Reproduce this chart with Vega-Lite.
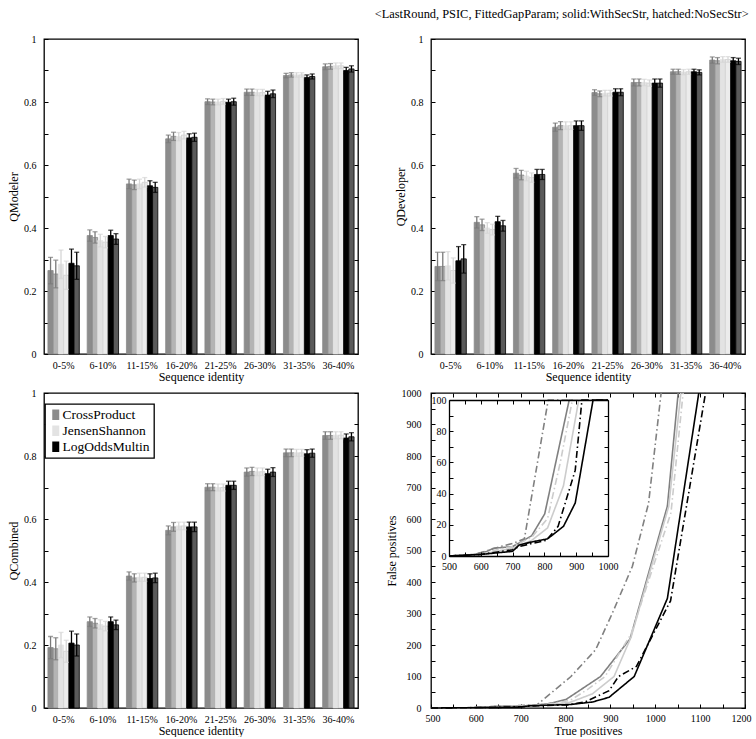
{
"$schema":"https://vega.github.io/schema/vega-lite/v6.json",
"padding":{"left":6,"top":7,"right":0,"bottom":0},
"title":{"text":"<LastRound, PSIC, FittedGapParam; solid:WithSecStr, hatched:NoSecStr>","anchor":"end","font":"Liberation Serif","fontSize":12.4,"fontWeight":"normal","color":"black","offset":13,"dx":-3},
"config":{
 "view":{"stroke":"black","strokeWidth":1.3},
 "font":"Liberation Serif",
 "axis":{"labelFont":"Liberation Serif","labelFontSize":10,"labelColor":"black","titleFont":"Liberation Serif","titleFontSize":12,"titleFontWeight":"normal","titleColor":"black","tickColor":"black","domain":false,"grid":false,"labelFlush":false,"labelOverlap":false},
 "legend":{"strokeWidth":1.3}
},
"resolve":{"scale":{"color":"independent","fill":"independent","stroke":"independent","strokeDash":"independent"},"legend":{"color":"independent","fill":"independent","stroke":"independent","strokeDash":"independent"}},
"datasets":{
"QModeler":[
{"id":"0-5%","s":"CrossProduct","v":0.265,"lo":0.223,"hi":0.307},
{"id":"0-5%","s":"CrossProduct hatched","v":0.254,"lo":0.210,"hi":0.298},
{"id":"0-5%","s":"JensenShannon","v":0.285,"lo":0.240,"hi":0.330},
{"id":"0-5%","s":"JensenShannon hatched","v":0.250,"lo":0.205,"hi":0.295},
{"id":"0-5%","s":"LogOddsMultin","v":0.288,"lo":0.243,"hi":0.333},
{"id":"0-5%","s":"LogOddsMultin hatched","v":0.280,"lo":0.237,"hi":0.323},
{"id":"6-10%","s":"CrossProduct","v":0.376,"lo":0.358,"hi":0.394},
{"id":"6-10%","s":"CrossProduct hatched","v":0.370,"lo":0.352,"hi":0.388},
{"id":"6-10%","s":"JensenShannon","v":0.360,"lo":0.340,"hi":0.380},
{"id":"6-10%","s":"JensenShannon hatched","v":0.355,"lo":0.337,"hi":0.373},
{"id":"6-10%","s":"LogOddsMultin","v":0.376,"lo":0.359,"hi":0.393},
{"id":"6-10%","s":"LogOddsMultin hatched","v":0.365,"lo":0.348,"hi":0.382},
{"id":"11-15%","s":"CrossProduct","v":0.540,"lo":0.525,"hi":0.555},
{"id":"11-15%","s":"CrossProduct hatched","v":0.537,"lo":0.522,"hi":0.552},
{"id":"11-15%","s":"JensenShannon","v":0.540,"lo":0.525,"hi":0.555},
{"id":"11-15%","s":"JensenShannon hatched","v":0.545,"lo":0.530,"hi":0.560},
{"id":"11-15%","s":"LogOddsMultin","v":0.534,"lo":0.518,"hi":0.550},
{"id":"11-15%","s":"LogOddsMultin hatched","v":0.529,"lo":0.513,"hi":0.545},
{"id":"16-20%","s":"CrossProduct","v":0.683,"lo":0.671,"hi":0.695},
{"id":"16-20%","s":"CrossProduct hatched","v":0.691,"lo":0.678,"hi":0.704},
{"id":"16-20%","s":"JensenShannon","v":0.690,"lo":0.677,"hi":0.703},
{"id":"16-20%","s":"JensenShannon hatched","v":0.695,"lo":0.683,"hi":0.707},
{"id":"16-20%","s":"LogOddsMultin","v":0.686,"lo":0.673,"hi":0.699},
{"id":"16-20%","s":"LogOddsMultin hatched","v":0.688,"lo":0.675,"hi":0.701},
{"id":"21-25%","s":"CrossProduct","v":0.801,"lo":0.792,"hi":0.810},
{"id":"21-25%","s":"CrossProduct hatched","v":0.800,"lo":0.791,"hi":0.809},
{"id":"21-25%","s":"JensenShannon","v":0.800,"lo":0.791,"hi":0.809},
{"id":"21-25%","s":"JensenShannon hatched","v":0.802,"lo":0.793,"hi":0.811},
{"id":"21-25%","s":"LogOddsMultin","v":0.799,"lo":0.789,"hi":0.809},
{"id":"21-25%","s":"LogOddsMultin hatched","v":0.801,"lo":0.790,"hi":0.812},
{"id":"26-30%","s":"CrossProduct","v":0.831,"lo":0.821,"hi":0.841},
{"id":"26-30%","s":"CrossProduct hatched","v":0.831,"lo":0.821,"hi":0.841},
{"id":"26-30%","s":"JensenShannon","v":0.830,"lo":0.820,"hi":0.840},
{"id":"26-30%","s":"JensenShannon hatched","v":0.830,"lo":0.820,"hi":0.840},
{"id":"26-30%","s":"LogOddsMultin","v":0.822,"lo":0.810,"hi":0.834},
{"id":"26-30%","s":"LogOddsMultin hatched","v":0.826,"lo":0.814,"hi":0.838},
{"id":"31-35%","s":"CrossProduct","v":0.884,"lo":0.877,"hi":0.891},
{"id":"31-35%","s":"CrossProduct hatched","v":0.886,"lo":0.879,"hi":0.893},
{"id":"31-35%","s":"JensenShannon","v":0.886,"lo":0.879,"hi":0.893},
{"id":"31-35%","s":"JensenShannon hatched","v":0.886,"lo":0.879,"hi":0.893},
{"id":"31-35%","s":"LogOddsMultin","v":0.878,"lo":0.870,"hi":0.886},
{"id":"31-35%","s":"LogOddsMultin hatched","v":0.881,"lo":0.873,"hi":0.889},
{"id":"36-40%","s":"CrossProduct","v":0.912,"lo":0.903,"hi":0.921},
{"id":"36-40%","s":"CrossProduct hatched","v":0.913,"lo":0.904,"hi":0.922},
{"id":"36-40%","s":"JensenShannon","v":0.915,"lo":0.906,"hi":0.924},
{"id":"36-40%","s":"JensenShannon hatched","v":0.915,"lo":0.906,"hi":0.924},
{"id":"36-40%","s":"LogOddsMultin","v":0.900,"lo":0.890,"hi":0.910},
{"id":"36-40%","s":"LogOddsMultin hatched","v":0.905,"lo":0.895,"hi":0.915}
],
"QDeveloper":[
{"id":"0-5%","s":"CrossProduct","v":0.278,"lo":0.233,"hi":0.323},
{"id":"0-5%","s":"CrossProduct hatched","v":0.278,"lo":0.233,"hi":0.323},
{"id":"0-5%","s":"JensenShannon","v":0.280,"lo":0.235,"hi":0.325},
{"id":"0-5%","s":"JensenShannon hatched","v":0.265,"lo":0.225,"hi":0.305},
{"id":"0-5%","s":"LogOddsMultin","v":0.296,"lo":0.251,"hi":0.341},
{"id":"0-5%","s":"LogOddsMultin hatched","v":0.302,"lo":0.257,"hi":0.347},
{"id":"6-10%","s":"CrossProduct","v":0.418,"lo":0.400,"hi":0.436},
{"id":"6-10%","s":"CrossProduct hatched","v":0.410,"lo":0.392,"hi":0.428},
{"id":"6-10%","s":"JensenShannon","v":0.400,"lo":0.383,"hi":0.417},
{"id":"6-10%","s":"JensenShannon hatched","v":0.395,"lo":0.378,"hi":0.412},
{"id":"6-10%","s":"LogOddsMultin","v":0.420,"lo":0.403,"hi":0.437},
{"id":"6-10%","s":"LogOddsMultin hatched","v":0.407,"lo":0.390,"hi":0.424},
{"id":"11-15%","s":"CrossProduct","v":0.574,"lo":0.559,"hi":0.589},
{"id":"11-15%","s":"CrossProduct hatched","v":0.568,"lo":0.553,"hi":0.583},
{"id":"11-15%","s":"JensenShannon","v":0.565,"lo":0.550,"hi":0.580},
{"id":"11-15%","s":"JensenShannon hatched","v":0.560,"lo":0.545,"hi":0.575},
{"id":"11-15%","s":"LogOddsMultin","v":0.570,"lo":0.554,"hi":0.586},
{"id":"11-15%","s":"LogOddsMultin hatched","v":0.570,"lo":0.554,"hi":0.586},
{"id":"16-20%","s":"CrossProduct","v":0.720,"lo":0.707,"hi":0.733},
{"id":"16-20%","s":"CrossProduct hatched","v":0.725,"lo":0.712,"hi":0.738},
{"id":"16-20%","s":"JensenShannon","v":0.725,"lo":0.713,"hi":0.737},
{"id":"16-20%","s":"JensenShannon hatched","v":0.725,"lo":0.713,"hi":0.737},
{"id":"16-20%","s":"LogOddsMultin","v":0.725,"lo":0.710,"hi":0.740},
{"id":"16-20%","s":"LogOddsMultin hatched","v":0.725,"lo":0.710,"hi":0.740},
{"id":"21-25%","s":"CrossProduct","v":0.830,"lo":0.821,"hi":0.839},
{"id":"21-25%","s":"CrossProduct hatched","v":0.826,"lo":0.817,"hi":0.835},
{"id":"21-25%","s":"JensenShannon","v":0.828,"lo":0.819,"hi":0.837},
{"id":"21-25%","s":"JensenShannon hatched","v":0.828,"lo":0.819,"hi":0.837},
{"id":"21-25%","s":"LogOddsMultin","v":0.831,"lo":0.820,"hi":0.842},
{"id":"21-25%","s":"LogOddsMultin hatched","v":0.831,"lo":0.820,"hi":0.842},
{"id":"26-30%","s":"CrossProduct","v":0.862,"lo":0.851,"hi":0.873},
{"id":"26-30%","s":"CrossProduct hatched","v":0.862,"lo":0.851,"hi":0.873},
{"id":"26-30%","s":"JensenShannon","v":0.862,"lo":0.852,"hi":0.872},
{"id":"26-30%","s":"JensenShannon hatched","v":0.860,"lo":0.850,"hi":0.870},
{"id":"26-30%","s":"LogOddsMultin","v":0.860,"lo":0.847,"hi":0.873},
{"id":"26-30%","s":"LogOddsMultin hatched","v":0.860,"lo":0.847,"hi":0.873},
{"id":"31-35%","s":"CrossProduct","v":0.896,"lo":0.888,"hi":0.904},
{"id":"31-35%","s":"CrossProduct hatched","v":0.896,"lo":0.888,"hi":0.904},
{"id":"31-35%","s":"JensenShannon","v":0.895,"lo":0.887,"hi":0.903},
{"id":"31-35%","s":"JensenShannon hatched","v":0.896,"lo":0.888,"hi":0.904},
{"id":"31-35%","s":"LogOddsMultin","v":0.896,"lo":0.888,"hi":0.904},
{"id":"31-35%","s":"LogOddsMultin hatched","v":0.894,"lo":0.886,"hi":0.902},
{"id":"36-40%","s":"CrossProduct","v":0.933,"lo":0.923,"hi":0.943},
{"id":"36-40%","s":"CrossProduct hatched","v":0.931,"lo":0.921,"hi":0.941},
{"id":"36-40%","s":"JensenShannon","v":0.935,"lo":0.926,"hi":0.944},
{"id":"36-40%","s":"JensenShannon hatched","v":0.935,"lo":0.926,"hi":0.944},
{"id":"36-40%","s":"LogOddsMultin","v":0.931,"lo":0.921,"hi":0.941},
{"id":"36-40%","s":"LogOddsMultin hatched","v":0.929,"lo":0.919,"hi":0.939}
],
"QCombined":[
{"id":"0-5%","s":"CrossProduct","v":0.192,"lo":0.157,"hi":0.227},
{"id":"0-5%","s":"CrossProduct hatched","v":0.188,"lo":0.153,"hi":0.223},
{"id":"0-5%","s":"JensenShannon","v":0.200,"lo":0.160,"hi":0.240},
{"id":"0-5%","s":"JensenShannon hatched","v":0.180,"lo":0.145,"hi":0.215},
{"id":"0-5%","s":"LogOddsMultin","v":0.206,"lo":0.168,"hi":0.244},
{"id":"0-5%","s":"LogOddsMultin hatched","v":0.200,"lo":0.165,"hi":0.235},
{"id":"6-10%","s":"CrossProduct","v":0.274,"lo":0.259,"hi":0.289},
{"id":"6-10%","s":"CrossProduct hatched","v":0.269,"lo":0.254,"hi":0.284},
{"id":"6-10%","s":"JensenShannon","v":0.265,"lo":0.250,"hi":0.280},
{"id":"6-10%","s":"JensenShannon hatched","v":0.260,"lo":0.245,"hi":0.275},
{"id":"6-10%","s":"LogOddsMultin","v":0.274,"lo":0.259,"hi":0.289},
{"id":"6-10%","s":"LogOddsMultin hatched","v":0.264,"lo":0.249,"hi":0.279},
{"id":"11-15%","s":"CrossProduct","v":0.419,"lo":0.406,"hi":0.432},
{"id":"11-15%","s":"CrossProduct hatched","v":0.413,"lo":0.400,"hi":0.426},
{"id":"11-15%","s":"JensenShannon","v":0.415,"lo":0.402,"hi":0.428},
{"id":"11-15%","s":"JensenShannon hatched","v":0.415,"lo":0.402,"hi":0.428},
{"id":"11-15%","s":"LogOddsMultin","v":0.411,"lo":0.396,"hi":0.426},
{"id":"11-15%","s":"LogOddsMultin hatched","v":0.413,"lo":0.398,"hi":0.428},
{"id":"16-20%","s":"CrossProduct","v":0.564,"lo":0.550,"hi":0.578},
{"id":"16-20%","s":"CrossProduct hatched","v":0.575,"lo":0.561,"hi":0.589},
{"id":"16-20%","s":"JensenShannon","v":0.578,"lo":0.566,"hi":0.590},
{"id":"16-20%","s":"JensenShannon hatched","v":0.578,"lo":0.566,"hi":0.590},
{"id":"16-20%","s":"LogOddsMultin","v":0.575,"lo":0.560,"hi":0.590},
{"id":"16-20%","s":"LogOddsMultin hatched","v":0.575,"lo":0.560,"hi":0.590},
{"id":"21-25%","s":"CrossProduct","v":0.701,"lo":0.690,"hi":0.712},
{"id":"21-25%","s":"CrossProduct hatched","v":0.701,"lo":0.690,"hi":0.712},
{"id":"21-25%","s":"JensenShannon","v":0.700,"lo":0.689,"hi":0.711},
{"id":"21-25%","s":"JensenShannon hatched","v":0.700,"lo":0.689,"hi":0.711},
{"id":"21-25%","s":"LogOddsMultin","v":0.707,"lo":0.694,"hi":0.720},
{"id":"21-25%","s":"LogOddsMultin hatched","v":0.707,"lo":0.694,"hi":0.720},
{"id":"26-30%","s":"CrossProduct","v":0.749,"lo":0.736,"hi":0.762},
{"id":"26-30%","s":"CrossProduct hatched","v":0.751,"lo":0.738,"hi":0.764},
{"id":"26-30%","s":"JensenShannon","v":0.750,"lo":0.738,"hi":0.762},
{"id":"26-30%","s":"JensenShannon hatched","v":0.750,"lo":0.738,"hi":0.762},
{"id":"26-30%","s":"LogOddsMultin","v":0.744,"lo":0.730,"hi":0.758},
{"id":"26-30%","s":"LogOddsMultin hatched","v":0.749,"lo":0.735,"hi":0.763},
{"id":"31-35%","s":"CrossProduct","v":0.810,"lo":0.798,"hi":0.822},
{"id":"31-35%","s":"CrossProduct hatched","v":0.810,"lo":0.798,"hi":0.822},
{"id":"31-35%","s":"JensenShannon","v":0.810,"lo":0.799,"hi":0.821},
{"id":"31-35%","s":"JensenShannon hatched","v":0.810,"lo":0.799,"hi":0.821},
{"id":"31-35%","s":"LogOddsMultin","v":0.807,"lo":0.794,"hi":0.820},
{"id":"31-35%","s":"LogOddsMultin hatched","v":0.809,"lo":0.796,"hi":0.822},
{"id":"36-40%","s":"CrossProduct","v":0.865,"lo":0.853,"hi":0.877},
{"id":"36-40%","s":"CrossProduct hatched","v":0.865,"lo":0.853,"hi":0.877},
{"id":"36-40%","s":"JensenShannon","v":0.866,"lo":0.855,"hi":0.877},
{"id":"36-40%","s":"JensenShannon hatched","v":0.866,"lo":0.855,"hi":0.877},
{"id":"36-40%","s":"LogOddsMultin","v":0.857,"lo":0.844,"hi":0.870},
{"id":"36-40%","s":"LogOddsMultin hatched","v":0.861,"lo":0.848,"hi":0.874}
],
"roc":[
{"m":"CrossProduct","sec":"WithSecStr","tp":500,"fp":0},
{"m":"CrossProduct","sec":"WithSecStr","tp":580,"fp":1},
{"m":"CrossProduct","sec":"WithSecStr","tp":620,"fp":3},
{"m":"CrossProduct","sec":"WithSecStr","tp":640,"fp":5},
{"m":"CrossProduct","sec":"WithSecStr","tp":700,"fp":6},
{"m":"CrossProduct","sec":"WithSecStr","tp":760,"fp":13},
{"m":"CrossProduct","sec":"WithSecStr","tp":801,"fp":27},
{"m":"CrossProduct","sec":"WithSecStr","tp":878,"fp":100},
{"m":"CrossProduct","sec":"WithSecStr","tp":944,"fp":220},
{"m":"CrossProduct","sec":"WithSecStr","tp":1027,"fp":641},
{"m":"CrossProduct","sec":"WithSecStr","tp":1051,"fp":1000},
{"m":"CrossProduct","sec":"NoSecStr","tp":500,"fp":0},
{"m":"CrossProduct","sec":"NoSecStr","tp":580,"fp":1},
{"m":"CrossProduct","sec":"NoSecStr","tp":630,"fp":4},
{"m":"CrossProduct","sec":"NoSecStr","tp":660,"fp":6},
{"m":"CrossProduct","sec":"NoSecStr","tp":700,"fp":8},
{"m":"CrossProduct","sec":"NoSecStr","tp":737,"fp":11},
{"m":"CrossProduct","sec":"NoSecStr","tp":812,"fp":100},
{"m":"CrossProduct","sec":"NoSecStr","tp":867,"fp":185},
{"m":"CrossProduct","sec":"NoSecStr","tp":904,"fp":300},
{"m":"CrossProduct","sec":"NoSecStr","tp":949,"fp":450},
{"m":"CrossProduct","sec":"NoSecStr","tp":985,"fp":650},
{"m":"CrossProduct","sec":"NoSecStr","tp":1013,"fp":1000},
{"m":"JensenShannon","sec":"WithSecStr","tp":500,"fp":0},
{"m":"JensenShannon","sec":"WithSecStr","tp":600,"fp":1},
{"m":"JensenShannon","sec":"WithSecStr","tp":650,"fp":3},
{"m":"JensenShannon","sec":"WithSecStr","tp":700,"fp":5},
{"m":"JensenShannon","sec":"WithSecStr","tp":760,"fp":10},
{"m":"JensenShannon","sec":"WithSecStr","tp":810,"fp":18},
{"m":"JensenShannon","sec":"WithSecStr","tp":860,"fp":45},
{"m":"JensenShannon","sec":"WithSecStr","tp":908,"fp":100},
{"m":"JensenShannon","sec":"WithSecStr","tp":946,"fp":225},
{"m":"JensenShannon","sec":"WithSecStr","tp":1030,"fp":640},
{"m":"JensenShannon","sec":"WithSecStr","tp":1057,"fp":1000},
{"m":"JensenShannon","sec":"NoSecStr","tp":500,"fp":0},
{"m":"JensenShannon","sec":"NoSecStr","tp":600,"fp":1},
{"m":"JensenShannon","sec":"NoSecStr","tp":650,"fp":4},
{"m":"JensenShannon","sec":"NoSecStr","tp":700,"fp":6},
{"m":"JensenShannon","sec":"NoSecStr","tp":760,"fp":12},
{"m":"JensenShannon","sec":"NoSecStr","tp":810,"fp":24},
{"m":"JensenShannon","sec":"NoSecStr","tp":850,"fp":60},
{"m":"JensenShannon","sec":"NoSecStr","tp":888,"fp":100},
{"m":"JensenShannon","sec":"NoSecStr","tp":946,"fp":235},
{"m":"JensenShannon","sec":"NoSecStr","tp":1035,"fp":620},
{"m":"JensenShannon","sec":"NoSecStr","tp":1062,"fp":1000},
{"m":"LogOddsMultin","sec":"WithSecStr","tp":500,"fp":0},
{"m":"LogOddsMultin","sec":"WithSecStr","tp":600,"fp":1},
{"m":"LogOddsMultin","sec":"WithSecStr","tp":700,"fp":3},
{"m":"LogOddsMultin","sec":"WithSecStr","tp":720,"fp":7},
{"m":"LogOddsMultin","sec":"WithSecStr","tp":760,"fp":9},
{"m":"LogOddsMultin","sec":"WithSecStr","tp":810,"fp":11},
{"m":"LogOddsMultin","sec":"WithSecStr","tp":860,"fp":19},
{"m":"LogOddsMultin","sec":"WithSecStr","tp":897,"fp":34},
{"m":"LogOddsMultin","sec":"WithSecStr","tp":953,"fp":100},
{"m":"LogOddsMultin","sec":"WithSecStr","tp":1027,"fp":348},
{"m":"LogOddsMultin","sec":"WithSecStr","tp":1097,"fp":1000},
{"m":"LogOddsMultin","sec":"NoSecStr","tp":500,"fp":0},
{"m":"LogOddsMultin","sec":"NoSecStr","tp":600,"fp":1},
{"m":"LogOddsMultin","sec":"NoSecStr","tp":700,"fp":4},
{"m":"LogOddsMultin","sec":"NoSecStr","tp":720,"fp":6},
{"m":"LogOddsMultin","sec":"NoSecStr","tp":760,"fp":8},
{"m":"LogOddsMultin","sec":"NoSecStr","tp":806,"fp":10},
{"m":"LogOddsMultin","sec":"NoSecStr","tp":843,"fp":19},
{"m":"LogOddsMultin","sec":"NoSecStr","tp":870,"fp":37},
{"m":"LogOddsMultin","sec":"NoSecStr","tp":897,"fp":55},
{"m":"LogOddsMultin","sec":"NoSecStr","tp":918,"fp":100},
{"m":"LogOddsMultin","sec":"NoSecStr","tp":958,"fp":132},
{"m":"LogOddsMultin","sec":"NoSecStr","tp":1034,"fp":340},
{"m":"LogOddsMultin","sec":"NoSecStr","tp":1112,"fp":1000}
]
},
"spacing":24,
"hconcat":[
{
"bounds":"flush",
"spacing":39,
"resolve":{"scale":{"color":"independent","fill":"independent","stroke":"independent"},"legend":{"color":"independent","fill":"independent","stroke":"independent"}},
"vconcat":[
{
 "width":314,"height":315,
 "data":{"name":"QModeler"},
 "encoding":{
  "x":{"field":"id","type":"nominal","sort":["0-5%","6-10%","11-15%","16-20%","21-25%","26-30%","31-35%","36-40%"],"scale":{"paddingInner":0.2,"paddingOuter":0.1},"axis":{"title":"Sequence identity","labelAngle":0,"ticks":false,"labelPadding":6,"titlePadding":1}},
  "xOffset":{"field":"s","type":"nominal","sort":["CrossProduct","CrossProduct hatched","JensenShannon","JensenShannon hatched","LogOddsMultin","LogOddsMultin hatched"],"scale":{"paddingInner":0,"paddingOuter":0}}
 },
 "layer":[
  {"mark":{"type":"bar","strokeWidth":0.8},
   "encoding":{
    "y":{"field":"v","type":"quantitative","scale":{"domain":[0,1],"nice":false},"axis":{"title":"QModeler","values":[0,0.1,0.2,0.3,0.4,0.5,0.6,0.7,0.8,0.9,1],"format":"~g","labelExpr":"round(datum.value*10)%2==0 ? datum.label : ''","tickSize":-4,"labelPadding":12,"titlePadding":3}},
    "fill":{"field":"s","type":"nominal","scale":{"domain":["CrossProduct","CrossProduct hatched","JensenShannon","JensenShannon hatched","LogOddsMultin","LogOddsMultin hatched"],"range":["#8c8c8c","#b4b4b4","#e3e3e3","#ececec","#000000","#5a5a5a"]},"legend":null},
    "stroke":{"field":"s","type":"nominal","scale":{"domain":["CrossProduct","CrossProduct hatched","JensenShannon","JensenShannon hatched","LogOddsMultin","LogOddsMultin hatched"],"range":["#8c8c8c","#8c8c8c","#e3e3e3","#cfcfcf","#000000","#000000"]},"legend":null}
   }},
  {"mark":{"type":"rule","strokeWidth":1.3},
   "encoding":{
    "y":{"field":"lo","type":"quantitative","scale":{"domain":[0,1],"nice":false},"axis":null},"y2":{"field":"hi"},
    "color":{"field":"s","type":"nominal","scale":{"domain":["CrossProduct","CrossProduct hatched","JensenShannon","JensenShannon hatched","LogOddsMultin","LogOddsMultin hatched"],"range":["#7a7a7a","#7a7a7a","#d6d6d6","#d6d6d6","#000000","#000000"]},"legend":null}
   }},
  {"mark":{"type":"tick","orient":"horizontal","thickness":1.3,"size":5},
   "encoding":{
    "y":{"field":"hi","type":"quantitative","scale":{"domain":[0,1],"nice":false},"axis":{"orient":"right","title":null,"labels":false,"values":[0,0.1,0.2,0.3,0.4,0.5,0.6,0.7,0.8,0.9,1],"tickSize":-4}},
    "color":{"field":"s","type":"nominal","legend":null}
   }},
  {"mark":{"type":"tick","orient":"horizontal","thickness":1.3,"size":5},
   "encoding":{
    "y":{"field":"lo","type":"quantitative","scale":{"domain":[0,1],"nice":false},"axis":null},
    "color":{"field":"s","type":"nominal","legend":null}
   }}
 ],
 "resolve":{"axis":{"y":"independent"}}
},
{
 "width":314,"height":315,
 "data":{"name":"QCombined"},
 "encoding":{
  "x":{"field":"id","type":"nominal","sort":["0-5%","6-10%","11-15%","16-20%","21-25%","26-30%","31-35%","36-40%"],"scale":{"paddingInner":0.2,"paddingOuter":0.1},"axis":{"title":"Sequence identity","labelAngle":0,"ticks":false,"labelPadding":6,"titlePadding":1}},
  "xOffset":{"field":"s","type":"nominal","sort":["CrossProduct","CrossProduct hatched","JensenShannon","JensenShannon hatched","LogOddsMultin","LogOddsMultin hatched"],"scale":{"paddingInner":0,"paddingOuter":0}}
 },
 "layer":[
  {"mark":{"type":"bar","strokeWidth":0.8},
   "encoding":{
    "y":{"field":"v","type":"quantitative","scale":{"domain":[0,1],"nice":false},"axis":{"title":"QCombined","values":[0,0.1,0.2,0.3,0.4,0.5,0.6,0.7,0.8,0.9,1],"format":"~g","labelExpr":"round(datum.value*10)%2==0 ? datum.label : ''","tickSize":-4,"labelPadding":12,"titlePadding":3}},
    "fill":{"field":"s","type":"nominal","scale":{"domain":["CrossProduct","CrossProduct hatched","JensenShannon","JensenShannon hatched","LogOddsMultin","LogOddsMultin hatched"],"range":["#8c8c8c","#b4b4b4","#e3e3e3","#ececec","#000000","#5a5a5a"]},
     "legend":{"values":["CrossProduct","JensenShannon","LogOddsMultin"],"orient":"none","legendX":1,"legendY":11,"title":null,"symbolType":"M-1,-1.5H1V1.5H-1Z","symbolSize":49,"symbolStrokeWidth":0,"labelFontSize":13.5,"labelFont":"Liberation Serif","labelColor":"black","strokeColor":"black","fillColor":"white","padding":4,"rowPadding":1,"labelOffset":0,"symbolOffset":0,"labelLimit":200}},
    "stroke":{"field":"s","type":"nominal","scale":{"domain":["CrossProduct","CrossProduct hatched","JensenShannon","JensenShannon hatched","LogOddsMultin","LogOddsMultin hatched"],"range":["#8c8c8c","#8c8c8c","#e3e3e3","#cfcfcf","#000000","#000000"]},"legend":null}
   }},
  {"mark":{"type":"rule","strokeWidth":1.3},
   "encoding":{
    "y":{"field":"lo","type":"quantitative","scale":{"domain":[0,1],"nice":false},"axis":null},"y2":{"field":"hi"},
    "color":{"field":"s","type":"nominal","scale":{"domain":["CrossProduct","CrossProduct hatched","JensenShannon","JensenShannon hatched","LogOddsMultin","LogOddsMultin hatched"],"range":["#7a7a7a","#7a7a7a","#d6d6d6","#d6d6d6","#000000","#000000"]},"legend":null}
   }},
  {"mark":{"type":"tick","orient":"horizontal","thickness":1.3,"size":5},
   "encoding":{
    "y":{"field":"hi","type":"quantitative","scale":{"domain":[0,1],"nice":false},"axis":{"orient":"right","title":null,"labels":false,"values":[0,0.1,0.2,0.3,0.4,0.5,0.6,0.7,0.8,0.9,1],"tickSize":-4}},
    "color":{"field":"s","type":"nominal","legend":null}
   }},
  {"mark":{"type":"tick","orient":"horizontal","thickness":1.3,"size":5},
   "encoding":{
    "y":{"field":"lo","type":"quantitative","scale":{"domain":[0,1],"nice":false},"axis":null},
    "color":{"field":"s","type":"nominal","legend":null}
   }}
 ],
 "resolve":{"axis":{"y":"independent"}}
}
]},
{
"bounds":"flush",
"spacing":39,
"resolve":{"scale":{"color":"independent","fill":"independent","stroke":"independent","strokeDash":"independent"},"legend":{"color":"independent","fill":"independent","stroke":"independent","strokeDash":"independent"}},
"vconcat":[
{
 "width":314,"height":315,
 "data":{"name":"QDeveloper"},
 "encoding":{
  "x":{"field":"id","type":"nominal","sort":["0-5%","6-10%","11-15%","16-20%","21-25%","26-30%","31-35%","36-40%"],"scale":{"paddingInner":0.2,"paddingOuter":0.1},"axis":{"title":"Sequence identity","labelAngle":0,"ticks":false,"labelPadding":6,"titlePadding":1}},
  "xOffset":{"field":"s","type":"nominal","sort":["CrossProduct","CrossProduct hatched","JensenShannon","JensenShannon hatched","LogOddsMultin","LogOddsMultin hatched"],"scale":{"paddingInner":0,"paddingOuter":0}}
 },
 "layer":[
  {"mark":{"type":"bar","strokeWidth":0.8},
   "encoding":{
    "y":{"field":"v","type":"quantitative","scale":{"domain":[0,1],"nice":false},"axis":{"title":"QDeveloper","values":[0,0.1,0.2,0.3,0.4,0.5,0.6,0.7,0.8,0.9,1],"format":"~g","labelExpr":"round(datum.value*10)%2==0 ? datum.label : ''","tickSize":-4,"labelPadding":12,"titlePadding":3}},
    "fill":{"field":"s","type":"nominal","scale":{"domain":["CrossProduct","CrossProduct hatched","JensenShannon","JensenShannon hatched","LogOddsMultin","LogOddsMultin hatched"],"range":["#8c8c8c","#b4b4b4","#e3e3e3","#ececec","#000000","#5a5a5a"]},"legend":null},
    "stroke":{"field":"s","type":"nominal","scale":{"domain":["CrossProduct","CrossProduct hatched","JensenShannon","JensenShannon hatched","LogOddsMultin","LogOddsMultin hatched"],"range":["#8c8c8c","#8c8c8c","#e3e3e3","#cfcfcf","#000000","#000000"]},"legend":null}
   }},
  {"mark":{"type":"rule","strokeWidth":1.3},
   "encoding":{
    "y":{"field":"lo","type":"quantitative","scale":{"domain":[0,1],"nice":false},"axis":null},"y2":{"field":"hi"},
    "color":{"field":"s","type":"nominal","scale":{"domain":["CrossProduct","CrossProduct hatched","JensenShannon","JensenShannon hatched","LogOddsMultin","LogOddsMultin hatched"],"range":["#7a7a7a","#7a7a7a","#d6d6d6","#d6d6d6","#000000","#000000"]},"legend":null}
   }},
  {"mark":{"type":"tick","orient":"horizontal","thickness":1.3,"size":5},
   "encoding":{
    "y":{"field":"hi","type":"quantitative","scale":{"domain":[0,1],"nice":false},"axis":{"orient":"right","title":null,"labels":false,"values":[0,0.1,0.2,0.3,0.4,0.5,0.6,0.7,0.8,0.9,1],"tickSize":-4}},
    "color":{"field":"s","type":"nominal","legend":null}
   }},
  {"mark":{"type":"tick","orient":"horizontal","thickness":1.3,"size":5},
   "encoding":{
    "y":{"field":"lo","type":"quantitative","scale":{"domain":[0,1],"nice":false},"axis":null},
    "color":{"field":"s","type":"nominal","legend":null}
   }}
 ],
 "resolve":{"axis":{"y":"independent"}}
},
{
 "width":314,"height":315,
 "data":{"name":"roc"},
 "layer":[
  {"mark":{"type":"line","strokeWidth":1.6},
   "encoding":{
    "x":{"field":"tp","type":"quantitative","scale":{"domain":[500,1200],"nice":false,"zero":false},"axis":{"title":"True positives","format":"d","values":[500,550,600,650,700,750,800,850,900,950,1000,1050,1100,1150,1200],"labelExpr":"datum.value % 100 == 0 ? datum.label : ''","tickSize":-4,"labelPadding":9,"titlePadding":2,"labelFlush":true,"labelFlushOffset":6}},
    "y":{"field":"fp","type":"quantitative","scale":{"domain":[0,1000],"nice":false},"axis":{"title":"False positives","format":"d","values":[0,50,100,150,200,250,300,350,400,450,500,550,600,650,700,750,800,850,900,950,1000],"labelExpr":"datum.value % 100 == 0 ? datum.label : ''","tickSize":-4,"labelPadding":14,"titlePadding":3}},
    "color":{"field":"m","type":"nominal","scale":{"domain":["CrossProduct","JensenShannon","LogOddsMultin"],"range":["#808080","#cccccc","#000000"]},"legend":null},
    "strokeDash":{"field":"sec","type":"nominal","scale":{"domain":["WithSecStr","NoSecStr"],"range":[[1,0],[7,3,1.5,3]]},"legend":null}
   }},
  {"mark":{"type":"line","strokeOpacity":0},
   "encoding":{
    "x":{"field":"tp","type":"quantitative","scale":{"domain":[500,1200],"nice":false,"zero":false},"axis":{"orient":"top","title":null,"labels":false,"values":[500,550,600,650,700,750,800,850,900,950,1000,1050,1100,1150,1200],"tickSize":-4}},
    "y":{"field":"fp","type":"quantitative","scale":{"domain":[0,1000],"nice":false},"axis":{"orient":"right","title":null,"labels":false,"values":[0,50,100,150,200,250,300,350,400,450,500,550,600,650,700,750,800,850,900,950,1000],"tickSize":-4}}
   }},
  {"mark":{"type":"line","strokeWidth":1.6},
   "encoding":{
    "x":{"field":"tp","type":"quantitative","scale":{"domain":[500,1000],"range":[18,177],"clamp":true,"nice":false,"zero":false},"axis":{"orient":"bottom","offset":-152,"title":null,"format":"d","values":[500,550,600,650,700,750,800,850,900,950,1000],"labelExpr":"datum.value % 100 == 0 ? datum.label : ''","tickSize":-4,"labelPadding":9,"domain":true,"domainColor":"black","domainWidth":1.3,"zindex":1}},
    "y":{"field":"fp","type":"quantitative","scale":{"domain":[0,100],"range":[163,7],"clamp":true,"nice":false},"axis":{"orient":"left","offset":-18,"title":null,"format":"d","values":[0,10,20,30,40,50,60,70,80,90,100],"labelExpr":"datum.value % 20 == 0 ? datum.label : ''","tickSize":-4,"labelPadding":7,"domain":true,"domainColor":"black","domainWidth":1.3,"zindex":1}},
    "color":{"field":"m","type":"nominal","legend":null},
    "strokeDash":{"field":"sec","type":"nominal","legend":null}
   }},
  {"mark":{"type":"line","strokeOpacity":0},
   "encoding":{
    "x":{"field":"tp","type":"quantitative","scale":{"domain":[500,1000],"range":[18,177],"clamp":true,"nice":false,"zero":false},"axis":{"orient":"top","offset":-7,"title":null,"labels":false,"values":[500,550,600,650,700,750,800,850,900,950,1000],"tickSize":-4,"domain":true,"domainColor":"black","domainWidth":1.3,"zindex":1}},
    "y":{"field":"fp","type":"quantitative","scale":{"domain":[0,100],"range":[163,7],"clamp":true,"nice":false},"axis":{"orient":"right","offset":-137,"title":null,"labels":false,"values":[0,10,20,30,40,50,60,70,80,90,100],"tickSize":-4,"domain":true,"domainColor":"black","domainWidth":1.3,"zindex":1}}
   }}
 ],
 "resolve":{"scale":{"x":"independent","y":"independent"},"axis":{"x":"independent","y":"independent"}}
}
]}
]
}
